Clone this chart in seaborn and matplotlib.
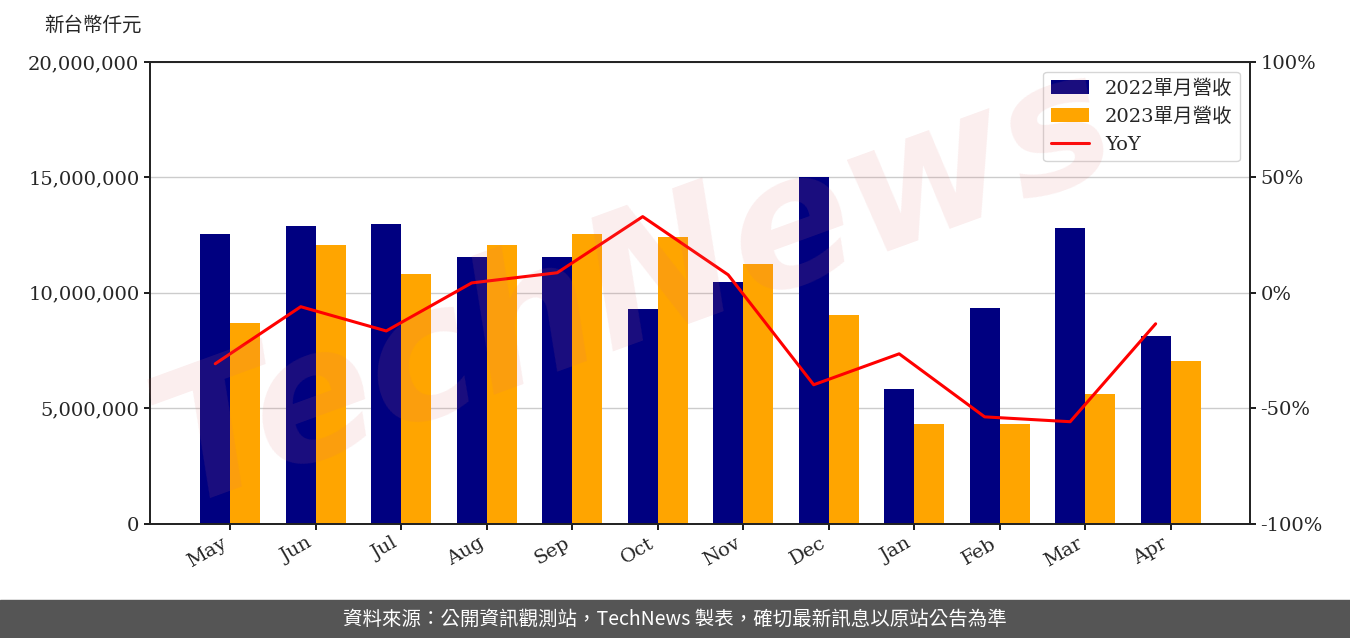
import matplotlib
matplotlib.use("Agg")
import matplotlib.pyplot as plt
import seaborn as sns
import pandas as pd
import numpy as np
from matplotlib.ticker import FuncFormatter

months = ["May","Jun","Jul","Aug","Sep","Oct","Nov","Dec","Jan","Feb","Mar","Apr"]
rev2022 = [12.55,12.9,13.0,11.56,11.56,9.31,10.48,15.02,5.84,9.35,12.81,8.14]
rev2023 = [8.7,12.08,10.82,12.08,12.55,12.42,11.26,9.05,4.33,4.33,5.63,7.06]
yoy = [-30.7,-6.0,-16.5,4.3,8.7,33.0,7.8,-39.8,-26.4,-53.7,-55.8,-13.4]

sns.set_theme(style="white")
plt.rcParams['font.family'] = ['DejaVu Serif', 'Noto Sans CJK TC']

df = pd.DataFrame({"month": months*2,
                   "value": [v*1e6 for v in rev2022]+[v*1e6 for v in rev2023],
                   "series": ["2022單月營收"]*12+["2023單月營收"]*12})

fig = plt.figure(figsize=(13.5,6.38), dpi=100)
ax = fig.add_axes([0.111,0.179,0.815,0.724])
fig.text(0.47,0.55,"TechNews", fontsize=130, color="#e07070", alpha=0.12, rotation=20,
         ha="center", va="center", family=["DejaVu Sans"], fontstyle="italic", fontweight="bold", zorder=0)
ax.patch.set_alpha(0)
sns.barplot(data=df, x="month", y="value", hue="series", palette=["#000080","#FFA500"],
            width=0.7, saturation=1, ax=ax, legend=True, linewidth=0)
ax.set_ylim(0,20e6)
ax.set_xlim(-0.94,11.93)
ax.set_yticks(np.arange(0,20e6+1,5e6))
ax.yaxis.set_major_formatter(FuncFormatter(lambda v,p: f"{int(v):,}"))
ax.grid(axis="y", color="#cccccc", lw=1)
ax.set_axisbelow(True)
ax.set_xlabel(""); ax.set_ylabel("")
for s in ax.spines.values():
    s.set_color("black")
ax.tick_params(axis="both", labelsize=14, left=True, bottom=True, length=4, color="black")
plt.setp(ax.get_xticklabels(), rotation=30, ha="right")

ax2 = ax.twinx()
sns.lineplot(x=np.arange(12)-0.175, y=yoy, color="red", lw=2.2, ax=ax2, label="YoY", legend=False)
ax2.set_ylim(-100,100)
ax2.set_yticks([-100,-50,0,50,100])
ax2.yaxis.set_major_formatter(FuncFormatter(lambda v,p: f"{int(v)}%"))
ax2.tick_params(axis="y", labelsize=14, right=True, length=4, color="black")
ax2.grid(False)

h1,l1 = ax.get_legend_handles_labels()
h2,l2 = ax2.get_legend_handles_labels()
ax.get_legend().remove()
ax2.legend(h1+h2, l1+l2, loc="upper right", fontsize=14, frameon=True, edgecolor="#cccccc")

fig.text(0.033,0.96,"新台幣仟元", fontsize=14, ha="left", va="center")

fig.patches.append(plt.Rectangle((0,0),1,0.06, transform=fig.transFigure, color="#555555", zorder=0))
fig.text(0.5,0.03,"資料來源：公開資訊觀測站，TechNews 製表，確切最新訊息以原站公告為準", color="white",
         fontsize=14, ha="center", va="center", family=["Noto Sans CJK TC","DejaVu Sans"])
fig.savefig("out.png", dpi=100)
